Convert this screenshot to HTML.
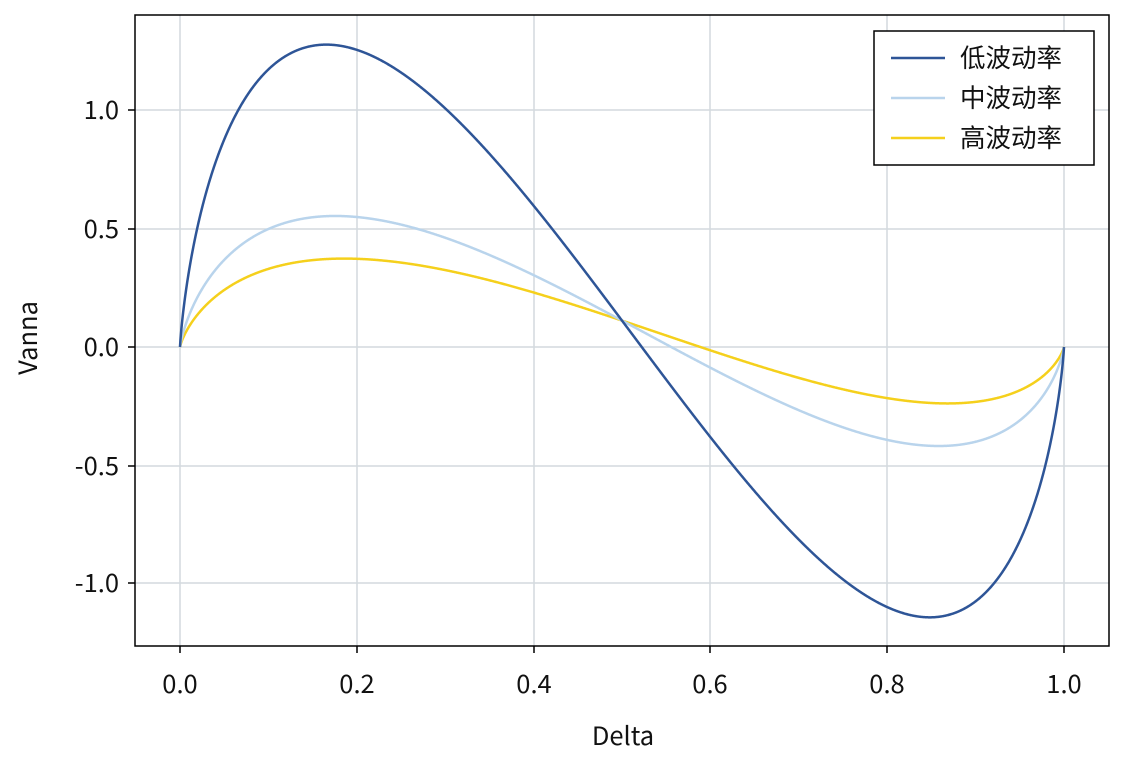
<!DOCTYPE html>
<html><head><meta charset="utf-8"><style>
html,body{margin:0;padding:0;background:#fff;}
svg text{font-family:"Noto Sans CJK SC","Liberation Sans",sans-serif;fill:#111;}
</style></head><body>
<svg id="s" width="1134" height="760" xmlns="http://www.w3.org/2000/svg">
<rect width="1134" height="760" fill="#fff"/>
<g stroke="#d3d9de" stroke-width="1.5">
<line x1="180" y1="15" x2="180" y2="646"/><line x1="357" y1="15" x2="357" y2="646"/>
<line x1="534" y1="15" x2="534" y2="646"/><line x1="710" y1="15" x2="710" y2="646"/>
<line x1="887" y1="15" x2="887" y2="646"/><line x1="1064" y1="15" x2="1064" y2="646"/>
<line x1="135" y1="110" x2="1109" y2="110"/><line x1="135" y1="229" x2="1109" y2="229"/>
<line x1="135" y1="347" x2="1109" y2="347"/><line x1="135" y1="466" x2="1109" y2="466"/>
<line x1="135" y1="583" x2="1109" y2="583"/>
</g>
<g id="curves" fill="none" stroke-width="2.5"></g>
<rect x="135" y="15" width="974" height="631" fill="none" stroke="#000" stroke-width="1.5"/>
<g stroke="#000" stroke-width="1.5">
<line x1="180" y1="646" x2="180" y2="653"/><line x1="357" y1="646" x2="357" y2="653"/>
<line x1="534" y1="646" x2="534" y2="653"/><line x1="710" y1="646" x2="710" y2="653"/>
<line x1="887" y1="646" x2="887" y2="653"/><line x1="1064" y1="646" x2="1064" y2="653"/>
<line x1="128" y1="110" x2="135" y2="110"/><line x1="128" y1="229" x2="135" y2="229"/>
<line x1="128" y1="347" x2="135" y2="347"/><line x1="128" y1="466" x2="135" y2="466"/>
<line x1="128" y1="583" x2="135" y2="583"/>
</g>
<g font-size="25.5" text-anchor="middle">
<text x="180" y="693">0.0</text><text x="357" y="693">0.2</text><text x="534" y="693">0.4</text>
<text x="710" y="693">0.6</text><text x="887" y="693">0.8</text><text x="1064" y="693">1.0</text>
</g>
<g font-size="25.5" text-anchor="end">
<text x="119" y="119">1.0</text><text x="119" y="238">0.5</text><text x="119" y="356">0.0</text>
<text x="119" y="475">-0.5</text><text x="119" y="592">-1.0</text>
</g>
<text x="623" y="745" font-size="25.5" text-anchor="middle">Delta</text>
<text transform="translate(37,338) rotate(-90)" font-size="25.5" text-anchor="middle">Vanna</text>
<rect x="874" y="31" width="220" height="134" fill="#fff" stroke="#000" stroke-width="1.5"/>
<line x1="891" y1="58" x2="945" y2="58" stroke="#2e5597" stroke-width="2.5"/>
<line x1="891" y1="98" x2="945" y2="98" stroke="#b9d4ec" stroke-width="2.5"/>
<line x1="891" y1="138" x2="945" y2="138" stroke="#f5d01c" stroke-width="2.5"/>
<g font-size="25.5"><text x="960" y="67">低波动率</text><text x="960" y="107">中波动率</text><text x="960" y="147">高波动率</text></g>
</svg>
<script>
function ninv(p){var a=[-39.69683028665376,220.9460984245205,-275.9285104469687,138.357751867269,-30.66479806614716,2.506628277459239],b=[-54.47609879822406,161.5858368580409,-155.6989798598866,66.80131188771972,-13.28068155288572],c=[-0.007784894002430293,-0.3223964580411365,-2.400758277161838,-2.549732539343734,4.374664141464968,2.938163982698783],d=[0.007784695709041462,0.3224671290700398,2.445134137142996,3.754408661907416];var q,r;if(p<0.02425){q=Math.sqrt(-2*Math.log(p));return(((((c[0]*q+c[1])*q+c[2])*q+c[3])*q+c[4])*q+c[5])/((((d[0]*q+d[1])*q+d[2])*q+d[3])*q+1);}if(p>1-0.02425){q=Math.sqrt(-2*Math.log(1-p));return-(((((c[0]*q+c[1])*q+c[2])*q+c[3])*q+c[4])*q+c[5])/((((d[0]*q+d[1])*q+d[2])*q+d[3])*q+1);}q=p-0.5;r=q*q;return(((((a[0]*r+a[1])*r+a[2])*r+a[3])*r+a[4])*r+a[5])*q/(((((b[0]*r+b[1])*r+b[2])*r+b[3])*r+b[4])*r+1);}
var g=document.getElementById('curves'),sq=0.28;
[[0.8,'#f5d01c'],[0.5,'#b9d4ec'],[0.2,'#2e5597']].forEach(function(v){var sig=v[0],pts=['180,347'];
for(var i=1;i<2000;i++){var dl=i/2000,d1=ninv(dl),phi=Math.exp(-d1*d1/2)/Math.sqrt(2*Math.PI),val=-phi*(d1-sig*sq)/sig;
pts.push((180+dl*884).toFixed(2)+','+(347-val*236.5).toFixed(2));}
pts.push('1064,347');var p=document.createElementNS('http://www.w3.org/2000/svg','polyline');p.setAttribute('points',pts.join(' '));p.setAttribute('stroke',v[1]);g.appendChild(p);});
</script>
</body></html>
